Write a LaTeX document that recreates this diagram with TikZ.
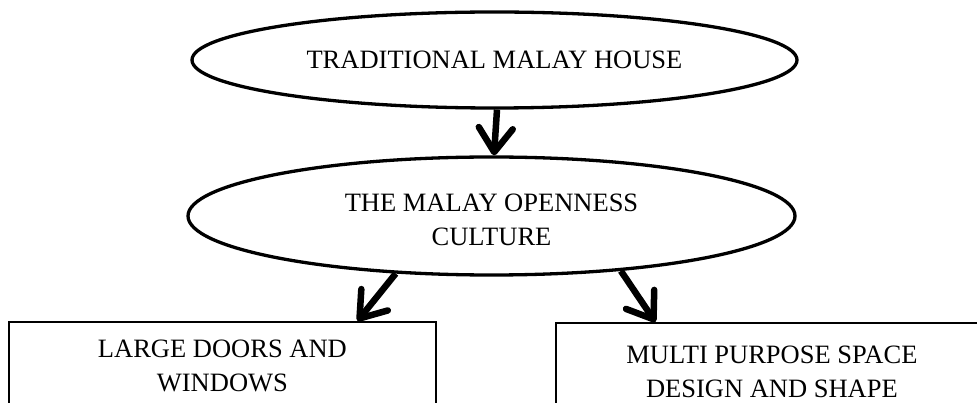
\documentclass[tikz,border=0pt]{standalone}
\usepackage{fontspec}
\setmainfont{Liberation Serif}
\usetikzlibrary{arrows.meta,shapes.geometric,calc}
\tikzset{
  txt/.style={font=\fontsize{26.5}{34.5}\selectfont, align=center},
  oval/.style={ellipse, draw, line width=3.3pt, inner sep=0pt, txt},
  panel/.style={rectangle, draw, line width=1.8pt, inner xsep=0pt, txt, anchor=north west},
  flow/.style={line width=6.5pt, -{Straight Barb[length=24pt,width=34pt,round]}},
}
\begin{document}
\begin{tikzpicture}[x=1pt,y=-1pt]
\useasboundingbox (0,0) rectangle (977,403);
\clip (0,0) rectangle (977,403);
\node[oval, minimum width=605pt, minimum height=96pt] (house) at (494.5,60) {TRADITIONAL MALAY HOUSE};
\node[oval, minimum width=607pt, minimum height=118pt] (culture) at (491.5,216) {\rule{0pt}{25.4pt}THE MALAY OPENNESS\\CULTURE};
\node[panel, minimum width=427pt, inner ysep=17.6pt] (doors) at (8,321) {LARGE DOORS AND\\WINDOWS};
\node[panel, minimum width=480pt, inner ysep=22.6pt] (space) at (555,322) {MULTI PURPOSE SPACE\hspace*{48pt}\\DESIGN AND SHAPE\hspace*{48pt}};
\draw[flow] ([xshift=2.5pt]house.south) -- ([xshift=2.5pt]culture.north);
\draw[flow] (culture.211) -- ($(doors.north west)!0.815!(doors.north east)$);
\draw[flow] (culture.337) -- ($(space.north west)!0.2083!(space.north east)$);
\end{tikzpicture}
\end{document}
